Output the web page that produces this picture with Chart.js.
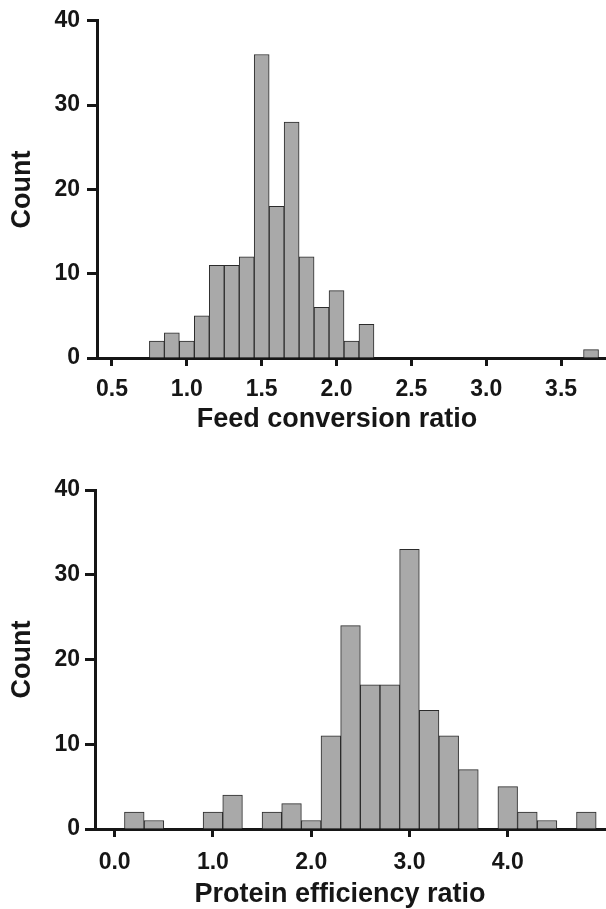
<!DOCTYPE html>
<html>
<head>
<meta charset="utf-8">
<script src="https://cdn.jsdelivr.net/npm/chart.js@4.4.1/dist/chart.umd.min.js"></script>
<style>
  html, body { margin: 0; padding: 0; background: #ffffff; }
  #wrap { position: relative; width: 606px; height: 909px; overflow: hidden; }
  canvas { position: absolute; left: 0; }
  #c1 { top: 0; }
  #c2 { top: 455px; }
</style>
</head>
<body>
<div id="wrap">
  <canvas id="c1" width="606" height="455"></canvas>
  <canvas id="c2" width="606" height="454"></canvas>
</div>
<script>
// ---- Data ----
// Feed conversion ratio histogram: bin centres (width 0.1) and counts
const fcrBins   = [0.8, 0.9, 1.0, 1.1, 1.2, 1.3, 1.4, 1.5, 1.6, 1.7, 1.8, 1.9, 2.0, 2.1, 2.2, 3.7];
const fcrCounts = [2,   3,   2,   5,   11,  11,  12,  36,  18,  28,  12,  6,   8,   2,   4,   1];
const fcrTicks  = [0.5, 1.0, 1.5, 2.0, 2.5, 3.0, 3.5];
const fcrRange  = [0.4, 3.8];

// Protein efficiency ratio histogram: bin centres (width 0.2) and counts
const perBins   = [0.2, 0.4, 1.0, 1.2, 1.6, 1.8, 2.0, 2.2, 2.4, 2.6, 2.8, 3.0, 3.2, 3.4, 3.6, 4.0, 4.2, 4.4, 4.8];
const perCounts = [2,   1,   2,   4,   2,   3,   1,   11,  24,  17,  17,  33,  14,  11,  7,   5,   2,   1,   2];
const perTicks  = [0, 1, 2, 3, 4];
const perRange  = [-0.2, 5.0];

const countTicks = [0, 10, 20, 30, 40];

const xTitles = ['Feed conversion ratio', 'Protein efficiency ratio'];
const yTitle = 'Count';

// ---- Styling ----
const FONT = "'Liberation Sans', Arial, Helvetica, sans-serif";
const INK = '#161616';
const BAR_FILL = '#a9a9a9';
const BAR_EDGE = '#2b2b2b';

// Draws the x-axis title, centred where the original figure centres it
const xTitlePlugin = {
  id: 'xTitle',
  afterDraw(chart, args, opts) {
    const ctx = chart.ctx;
    const area = chart.chartArea;
    ctx.save();
    ctx.fillStyle = INK;
    ctx.font = 'bold 27px ' + FONT;
    ctx.textAlign = 'center';
    ctx.textBaseline = 'alphabetic';
    ctx.fillText(opts.text, opts.cx, area.bottom + opts.dy);
    ctx.restore();
  }
};

function makeHist(canvasId, bins, counts, xTicks, xRange, xTitle, lay) {
  const ctx = document.getElementById(canvasId);
  return new Chart(ctx, {
    type: 'bar',
    data: {
      datasets: [{
        data: bins.map((b, i) => ({ x: b, y: counts[i] })),
        backgroundColor: BAR_FILL,
        borderColor: BAR_EDGE,
        borderWidth: 1,
        borderSkipped: 'start',
        barPercentage: 1.0,
        categoryPercentage: 1.0
      }]
    },
    plugins: [xTitlePlugin],
    options: {
      responsive: false,
      animation: false,
      devicePixelRatio: 1,
      events: [],
      layout: { padding: lay.padding },
      plugins: {
        legend: { display: false },
        tooltip: { enabled: false },
        title: { display: false },
        xTitle: { text: xTitle, cx: lay.titleX, dy: lay.titleDy }
      },
      scales: {
        x: {
          type: 'linear',
          offset: false,
          min: xRange[0],
          max: xRange[1],
          grid: {
            offset: false,
            drawOnChartArea: false,
            drawTicks: true,
            tickLength: 8,
            tickWidth: 3,
            tickColor: INK
          },
          border: { display: true, color: INK, width: 3 },
          afterBuildTicks: (scale) => { scale.ticks = xTicks.map(v => ({ value: v })); },
          afterFit: (scale) => { scale.height = lay.xHeight; },
          ticks: {
            autoSkip: false,
            maxRotation: 0,
            padding: lay.xTickPad,
            color: INK,
            font: { family: FONT, size: 23, weight: 'bold' },
            callback: (v) => Number(v).toFixed(1)
          },
          title: { display: false }
        },
        y: {
          type: 'linear',
          min: 0,
          max: 40,
          grid: {
            drawOnChartArea: false,
            drawTicks: true,
            tickLength: 10,
            tickWidth: 3,
            tickColor: INK
          },
          border: { display: true, color: INK, width: 3 },
          afterBuildTicks: (scale) => { scale.ticks = countTicks.map(v => ({ value: v })); },
          afterFit: (scale) => { scale.width = lay.yWidth; },
          ticks: {
            padding: lay.yTickPad,
            color: INK,
            font: { family: FONT, size: 23, weight: 'bold' }
          },
          title: {
            display: true,
            text: yTitle,
            color: INK,
            padding: 0,
            font: { family: FONT, size: 27, weight: 'bold' }
          }
        }
      }
    }
  });
}

makeHist('c1', fcrBins, fcrCounts, fcrTicks, fcrRange, xTitles[0], {
  padding: { top: 19, left: 6, right: 0, bottom: 21 },
  xHeight: 76, yWidth: 91, xTickPad: 10, yTickPad: 7,
  titleX: 337, titleDy: 69
});
makeHist('c2', perBins, perCounts, perTicks, perRange, xTitles[1], {
  padding: { top: 35, left: 6, right: 0, bottom: 0 },
  xHeight: 80, yWidth: 89, xTickPad: 12, yTickPad: 5,
  titleX: 340, titleDy: 73
});
</script>
</body>
</html>
